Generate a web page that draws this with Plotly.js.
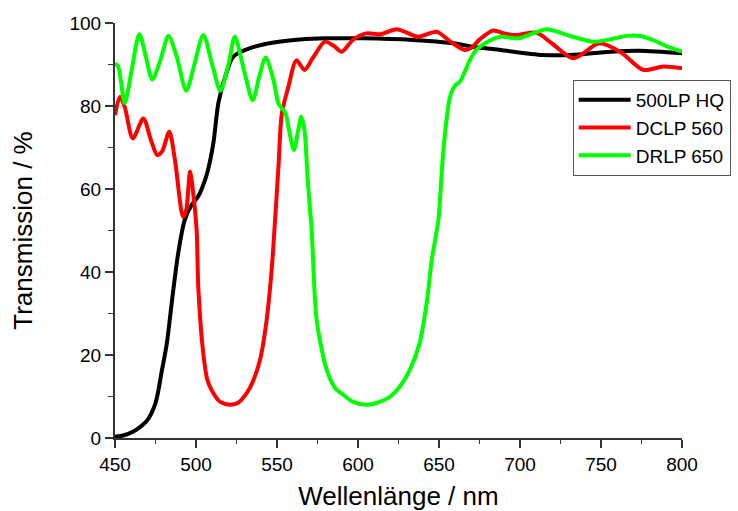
<!DOCTYPE html>
<html>
<head>
<meta charset="utf-8">
<script src="https://cdn.plot.ly/plotly-3.0.1.min.js"></script>
<style>html,body{margin:0;padding:0;background:#fff;}#chart{width:738px;height:511px;}</style>
</head>
<body>
<div id="chart"></div>
<script>
// 500LP HQ
var blackWl = [450, 455, 461, 466, 470, 475, 479, 482, 485, 489, 493, 497, 501, 504, 507, 510.7, 513.8, 518, 523, 533, 548, 564, 580, 603, 634, 659, 671, 688, 714, 731, 756, 774, 800];
var blackT  = [0.3, 0.6, 1.5, 2.8, 4.3, 8.4, 16.4, 22.8, 32.5, 44.5, 52.5, 56, 58, 60.5, 64, 71, 80.7, 87, 91.9, 93.9, 95.3, 96, 96.3, 96.3, 95.9, 95.1, 94.3, 93.5, 92.3, 92.3, 93.1, 93.3, 92.7];

// DCLP 560
var redWl = [450, 453, 456, 461, 467.5, 472, 476, 479, 483.5, 487, 492, 494, 496.3, 498, 500.4, 501.4, 504.5, 507, 510.7, 515, 521, 526, 531.3, 535, 539.5, 543.6, 546.7, 548.8, 551, 553, 557, 562, 567, 572, 579.6, 585, 590, 597, 605, 614, 624, 637, 648.6, 657, 666, 670, 675, 683.5, 690, 698, 710, 720, 733, 749, 762, 776, 788.5, 800];
var redT  = [77.8, 82.2, 79.8, 72.2, 77, 72, 68.2, 69, 73.8, 67, 53.3, 55, 64.2, 60, 50, 36.5, 20.4, 14, 10.8, 8.7, 8, 8.5, 10.8, 13.5, 18.8, 28.4, 40.5, 52.5, 66, 78.2, 84.6, 91, 88.7, 91.5, 95.5, 94.5, 93.1, 96, 97.5, 97.3, 98.5, 96.7, 97.9, 95.5, 93.5, 94, 96, 98.2, 97.5, 97.1, 97.7, 95, 91.5, 95.1, 93, 88.7, 89.5, 89.1];

// DRLP 650
var greenWl = [450, 452, 456, 460, 465, 469, 473, 478, 483, 488, 494, 499, 504.5, 510, 515, 520, 524, 530, 535, 539, 543, 548, 551, 555, 558, 560.5, 563, 565, 567, 569, 571.4, 574.5, 580.7, 586, 591, 597, 605, 612, 620, 627, 632, 638, 642.4, 645.5, 649.6, 652.7, 656.8, 660, 663, 669, 673, 680, 688, 699, 708, 716.5, 730, 745, 755, 766, 775, 782, 790, 800];
var greenT  = [90.3, 89.5, 80.7, 88, 97.3, 92, 86.4, 91, 96.9, 92, 83.7, 90, 97.1, 90, 83.7, 90, 96.7, 88, 81.4, 87, 91.7, 86, 80.5, 78.5, 73, 69.4, 74, 77.4, 74, 62, 50, 28.4, 16.4, 12, 10.4, 8.7, 8, 8.5, 10, 13, 16.4, 22.8, 32.5, 42.9, 52.5, 69.4, 82.2, 85, 85.9, 91, 93.5, 95.5, 96.7, 96.3, 97.5, 98.5, 97, 95.5, 96, 96.9, 96.8, 95.9, 94.5, 93.1];

var seriesNames = ['500LP HQ', 'DCLP 560', 'DRLP 650'];
var xTickVals = [450, 500, 550, 600, 650, 700, 750, 800];
var yTickVals = [0, 20, 40, 60, 80, 100];

var fontFam = 'Liberation Sans, Arial, sans-serif';

function tr(x, y, name, color) {
  return {x: x, y: y, name: name, type: 'scatter', mode: 'lines',
    line: {color: color, width: 4, shape: 'spline', smoothing: 0.8}};
}

var data = [
  tr(blackWl, blackT, seriesNames[0], '#000000'),
  tr(redWl, redT, seriesNames[1], '#ff0000'),
  tr(greenWl, greenT, seriesNames[2], '#00ff00')
];

var layout = {
  width: 738, height: 511,
  margin: {l: 115, r: 56, t: 23, b: 73, pad: 0, autoexpand: false},
  paper_bgcolor: '#ffffff', plot_bgcolor: '#ffffff',
  font: {family: fontFam, color: '#000', size: 19},
  showlegend: true,
  legend: {xref: 'container', yref: 'container', x: 0.776, y: 0.8434, xanchor: 'left', yanchor: 'top',
    bordercolor: '#555', borderwidth: 1, bgcolor: '#fff', itemwidth: 52,
    font: {family: fontFam, size: 19, color: '#000'}, tracegroupgap: 0},
  xaxis: {
    range: [450, 800], tickvals: xTickVals, ticks: 'outside', ticklen: 8, tickwidth: 1.5, tickcolor: '#333',
    showline: true, linecolor: '#333', linewidth: 2, showgrid: false, zeroline: false,
    minor: {dtick: 25, tick0: 450, ticks: 'outside', ticklen: 4, tickwidth: 1.5, tickcolor: '#333', showgrid: false},
    tickfont: {family: fontFam, size: 19},
    title: {text: 'Wellenlänge / nm', font: {family: fontFam, size: 26}, standoff: 30}
  },
  yaxis: {
    range: [0, 100], tickvals: yTickVals, ticks: 'outside', ticklen: 8, tickwidth: 1.5, tickcolor: '#333',
    showline: true, linecolor: '#333', linewidth: 2, showgrid: false, zeroline: false,
    minor: {dtick: 10, tick0: 0, ticks: 'outside', ticklen: 5, tickwidth: 1.5, tickcolor: '#333', showgrid: false},
    tickfont: {family: fontFam, size: 19},
    title: {text: 'Transmission / %', font: {family: fontFam, size: 26}, standoff: 29}
  }
};

Plotly.newPlot('chart', data, layout, {displayModeBar: false, staticPlot: true});
</script>
</body>
</html>
